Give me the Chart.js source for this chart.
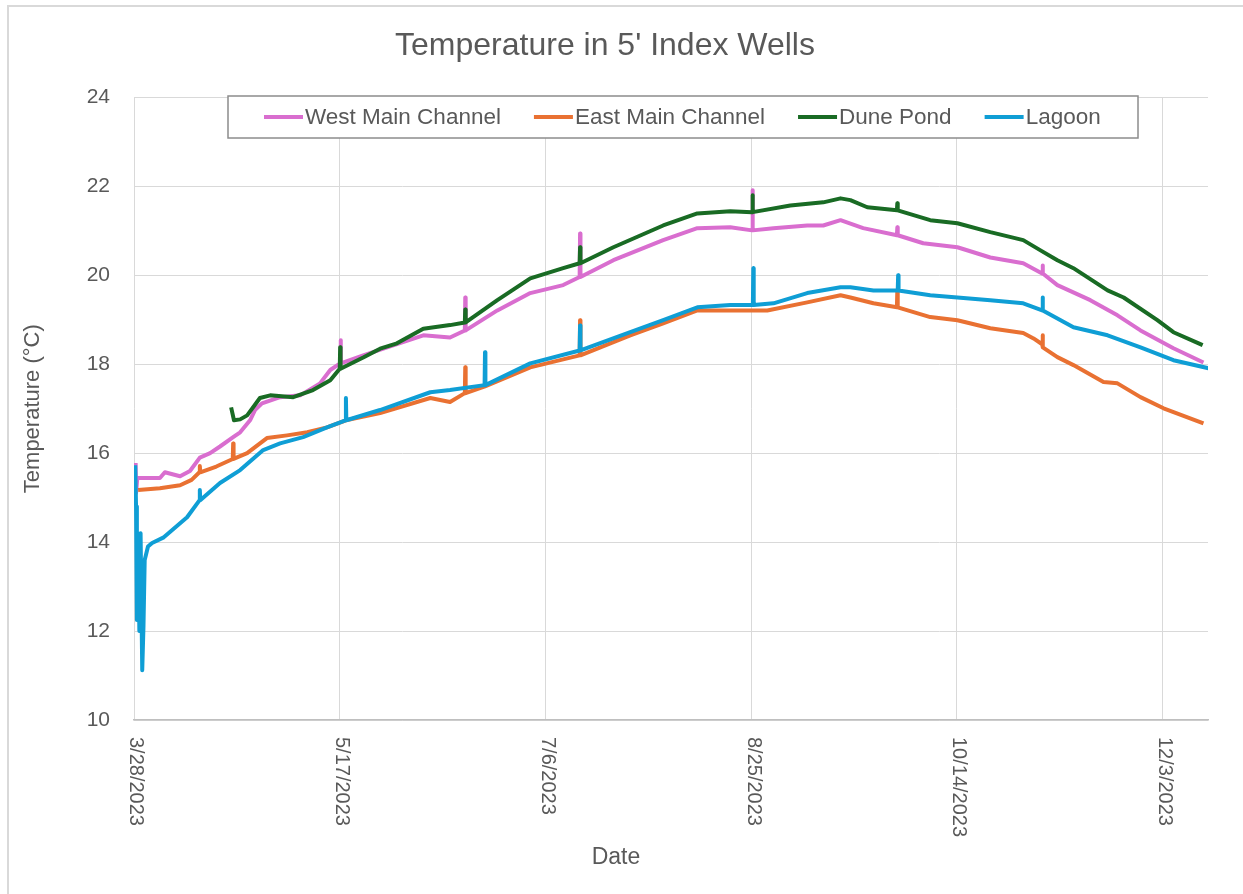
<!DOCTYPE html>
<html>
<head>
<meta charset="utf-8">
<title>Temperature in 5' Index Wells</title>
<script src="https://cdn.jsdelivr.net/npm/chart.js@4.4.1/dist/chart.umd.min.js"></script>
<style>
  html, body { margin: 0; padding: 0; background: #fff; overflow: hidden; }
  #frame { position: absolute; left: 7px; top: 5px; width: 1400px; height: 1000px;
           border-left: 2px solid #d9d9d9; border-top: 2px solid #d9d9d9; }
  #wrap { position: absolute; left: 0; top: 0; width: 1243px; height: 894px; }
</style>
</head>
<body>
<div id="frame"></div>
<div id="wrap"><canvas id="tempChart" width="1243" height="894"></canvas></div>
<script>
// x values are days since 3/28/2023, y values are degrees C
const tickDays = [0, 50, 100, 150, 200, 250];
const tickLabels = ['3/28/2023', '5/17/2023', '7/6/2023', '8/25/2023', '10/14/2023', '12/3/2023'];
const seriesNames = ['West Main Channel', 'East Main Channel', 'Dune Pond', 'Lagoon'];
const seriesColors = ['#D96ECF', '#E97132', '#196B24', '#0F9ED5'];

// [day, temp] readings, spikes kept as up/down triples
const westMain = [[0.4,15.78],[0.5,15.1],[0.8,15.44],[1.5,15.44],[6.3,15.44],[7.5,15.57],[11.2,15.48],[13.6,15.6],
  [16,15.9],[18.5,16.0],[20.9,16.15],[24.1,16.36],[25.8,16.47],[28.2,16.74],[29.4,16.97],[31.1,17.12],[35.5,17.26],
  [40.4,17.3],[45.2,17.57],[47.7,17.87],[50.1,18.02],[50.2,18.54],[50.3,18.02],[55.7,18.2],[63.9,18.45],[70.3,18.65],
  [76.8,18.6],[80.4,18.76],[80.5,19.5],[80.6,18.76],[88.3,19.21],[96.3,19.6],[104.3,19.78],[108.3,19.96],[108.4,20.94],
  [108.5,19.96],[116.5,20.34],[128.6,20.79],[136.9,21.06],[144.9,21.08],[150.2,21.01],[150.3,21.91],[150.4,21.01],
  [155.4,21.06],[163.6,21.12],[167.5,21.12],[171.7,21.24],[177.2,21.06],[185.4,20.9],[185.5,21.08],[185.6,20.9],
  [191.8,20.72],[200.1,20.63],[208.1,20.4],[216.1,20.27],[220.7,20.04],[220.8,20.22],[220.9,20.04],[224.4,19.78],
  [232.4,19.44],[239,19.1],[244.6,18.76],[252.6,18.36],[259.9,18.04]];

const eastMain = [[1.0,15.17],[6.3,15.21],[11.2,15.28],[14,15.4],[15.9,15.57],[16,15.71],[16.1,15.57],[20,15.7],
  [24,15.87],[24.1,16.22],[24.2,15.87],[27.5,16.0],[32.3,16.34],[37.2,16.4],[42.1,16.47],[46.9,16.58],[51.5,16.74],
  [59.8,16.9],[72,17.24],[76.8,17.15],[80.4,17.35],[80.5,17.93],[80.6,17.35],[85.3,17.5],[96.3,17.93],[108.3,18.2],
  [108.4,18.99],[108.5,18.2],[120.6,18.65],[128.6,18.92],[136.9,19.21],[144.9,19.21],[153.9,19.21],[163.6,19.39],
  [171.7,19.55],[174.1,19.5],[179.7,19.37],[185.4,19.28],[185.5,19.66],[185.6,19.28],[193.5,19.06],[200.1,18.99],
  [208.1,18.81],[216.1,18.7],[218.6,18.58],[220.7,18.45],[220.8,18.65],[220.9,18.38],[224.4,18.16],[228.3,17.98],
  [235.6,17.6],[239,17.57],[244.6,17.26],[250.2,17.01],[259.9,16.67]];

const dunePond = [[23.6,17.03],[24.3,16.74],[25.8,16.76],[27.5,16.85],[30.6,17.24],[33.1,17.3],[38.7,17.26],
  [43.5,17.42],[47.7,17.64],[50.0,17.9],[50.1,18.38],[50.2,17.9],[55.7,18.15],[59.8,18.35],[63.9,18.47],[70.3,18.8],
  [76.8,18.88],[80.4,18.94],[80.5,19.23],[80.6,18.94],[88.3,19.44],[96.3,19.93],[104.3,20.16],[108.3,20.27],
  [108.4,20.63],[108.5,20.27],[116.5,20.63],[128.6,21.12],[136.9,21.39],[144.9,21.44],[150.2,21.42],[150.3,21.8],
  [150.4,21.42],[159.5,21.57],[167.5,21.64],[171.7,21.73],[174.1,21.69],[178.2,21.53],[185.4,21.46],[185.5,21.62],
  [185.6,21.46],[193.5,21.24],[200.1,21.17],[208.1,20.97],[216.1,20.79],[220.3,20.56],[224.4,20.34],[228.3,20.16],
  [236.6,19.66],[240.5,19.5],[248.7,18.99],[252.6,18.72],[259.7,18.43]];

const lagoon = [[0.3,15.73],[0.5,14.8],[0.7,12.25],[1.0,14.2],[1.3,12.0],[1.6,14.2],[2.0,11.12],[2.3,12.1],
  [2.6,13.6],[3.4,13.9],[4.4,13.98],[7.1,14.1],[12.9,14.56],[15.9,14.94],[16,15.17],[16.1,14.94],[20.9,15.33],
  [25.8,15.62],[31.4,16.07],[35.5,16.22],[41.1,16.36],[46.9,16.58],[51.4,16.74],[51.5,17.24],[51.6,16.74],
  [59.8,16.97],[72,17.37],[76.8,17.42],[85.2,17.53],[85.3,18.27],[85.4,17.53],[96.3,18.02],[108.3,18.31],
  [108.4,18.87],[108.5,18.31],[120.6,18.72],[128.6,18.99],[136.9,19.28],[144.9,19.33],[150.4,19.33],[150.5,20.16],
  [150.6,19.33],[155.4,19.37],[163.6,19.6],[171.7,19.73],[174.1,19.73],[179.7,19.66],[185.6,19.66],[185.7,20.0],
  [185.8,19.66],[193.5,19.55],[200.1,19.5],[208.1,19.44],[216.1,19.37],[220.7,19.21],[220.8,19.5],[220.9,19.21],
  [228.3,18.83],[236.6,18.65],[244.6,18.38],[252.6,18.09],[261.1,17.91]];

const TEXT = '#595959';
const FONT = '"Liberation Sans", Arial, sans-serif';

Chart.defaults.font.family = FONT;
Chart.defaults.color = TEXT;

// rotated date labels, x title and the boxed legend, drawn the way Excel lays them out
const excelExtras = {
  id: 'excelExtras',
  afterDraw(chart) {
    const ctx = chart.ctx;
    const xs = chart.scales.x;
    const area = chart.chartArea;
    ctx.save();
    ctx.fillStyle = TEXT;

    ctx.font = '20px ' + FONT;
    ctx.textAlign = 'left';
    ctx.textBaseline = 'middle';
    tickDays.forEach((d, i) => {
      ctx.save();
      ctx.translate(xs.getPixelForValue(d) + 2, area.bottom + 17);
      ctx.rotate(Math.PI / 2);
      ctx.fillText(tickLabels[i], 0, 0);
      ctx.restore();
    });

    ctx.font = '23px ' + FONT;
    ctx.textAlign = 'center';
    ctx.fillText('Date', 616, 858);

    // legend box
    ctx.fillStyle = '#fff';
    ctx.fillRect(228, 96, 910, 42);
    ctx.strokeStyle = '#8c8c8c';
    ctx.lineWidth = 1.5;
    ctx.strokeRect(228, 96, 910, 42);

    ctx.font = '22.5px ' + FONT;
    ctx.textAlign = 'left';
    let x = 264;
    chart.data.datasets.forEach(ds => {
      ctx.strokeStyle = ds.borderColor;
      ctx.lineWidth = 4;
      ctx.beginPath();
      ctx.moveTo(x, 117);
      ctx.lineTo(x + 39, 117);
      ctx.stroke();
      ctx.fillStyle = TEXT;
      ctx.fillText(ds.label, x + 41, 118);
      x += 41 + ctx.measureText(ds.label).width + 33;
    });
    ctx.restore();
  }
};

function toPoints(rows) {
  return rows.map(r => ({ x: r[0], y: r[1] }));
}

const allSeries = [westMain, eastMain, dunePond, lagoon];

const ctx = document.getElementById('tempChart').getContext('2d');
new Chart(ctx, {
  type: 'line',
  data: {
    datasets: allSeries.map((rows, i) => ({
      label: seriesNames[i],
      data: toPoints(rows),
      borderColor: seriesColors[i],
      backgroundColor: seriesColors[i],
      borderWidth: 4,
      borderJoinStyle: 'round',
      pointRadius: 0,
      tension: 0,
      order: 4 - i
    }))
  },
  options: {
    responsive: false,
    animation: false,
    layout: { padding: { left: 2, right: 35, top: 0, bottom: 0 } },
    plugins: {
      legend: { display: false },
      tooltip: { enabled: false },
      title: {
        display: true,
        text: "Temperature in 5' Index Wells",
        color: TEXT,
        font: { size: 32, weight: 'normal' },
        padding: { top: 27, bottom: 32 }
      }
    },
    scales: {
      x: {
        type: 'linear',
        min: 0,
        max: 261,
        ticks: { display: false, stepSize: 50, includeBounds: false },
        grid: { color: '#d9d9d9', drawTicks: false },
        border: { color: '#bfbfbf', width: 1.5 },
        afterFit(scale) { scale.height = 174; }
      },
      y: {
        min: 10,
        max: 24,
        ticks: { stepSize: 2, padding: 24, color: TEXT, font: { size: 21 } },
        grid: { color: '#d9d9d9', drawTicks: false },
        border: { display: false },
        title: {
          display: true,
          text: 'Temperature (°C)',
          color: TEXT,
          font: { size: 22 },
          padding: { top: 18, bottom: 0 }
        },
        afterFit(scale) { scale.width = 132; }
      }
    }
  },
  plugins: [excelExtras]
});
</script>
</body>
</html>
